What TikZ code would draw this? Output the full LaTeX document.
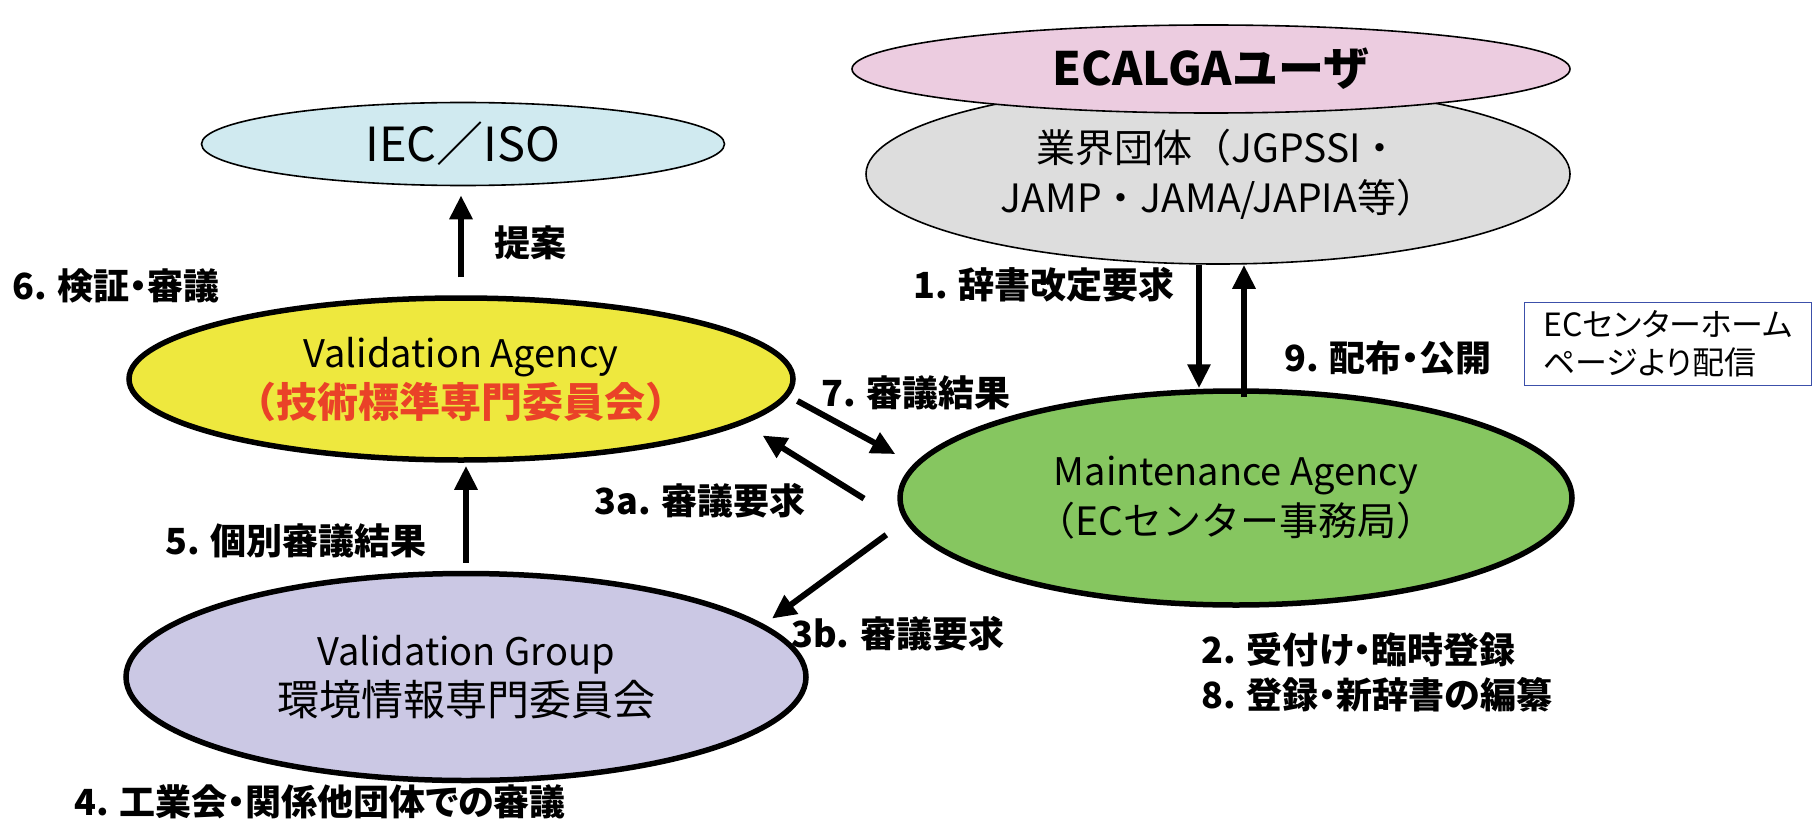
\documentclass[tikz,border=0pt]{standalone}
\usepackage{fontspec}
\setmainfont{Noto Sans CJK JP}
\newfontfamily\propfont{Noto Sans CJK JP}[RawFeature=+palt]
\usetikzlibrary{arrows.meta, shapes.geometric}

\definecolor{pinkfill}{RGB}{236,204,224}
\definecolor{grayfill}{RGB}{221,221,221}
\definecolor{bluefill}{RGB}{208,234,240}
\definecolor{yellowfill}{RGB}{238,232,62}
\definecolor{greenfill}{RGB}{134,198,96}
\definecolor{purplefill}{RGB}{203,200,228}
\definecolor{redtext}{RGB}{234,66,40}
\definecolor{boxblue}{RGB}{60,80,170}

\begin{document}
\begin{tikzpicture}[x=1pt,y=-1pt,>={Triangle[length=24pt,width=22pt]},
	oval/.style={ellipse, draw, inner sep=0pt, align=center, font=\fontsize{38}{50}\selectfont},
	thinline/.style={line width=1.6pt},
	heavy/.style={line width=5.5pt},
	lbl/.style={font=\propfont\bfseries\fontsize{36}{45}\selectfont, inner sep=0pt},
	flow/.style={->, line width=6pt}]
	\useasboundingbox (0,0) rectangle (1814,824);
	
	%ellipses
	\node[oval, thinline, fill=grayfill, minimum width=704, minimum height=180, font=\fontsize{39}{50}\selectfont] (group) at (1218,174) {業界団体（JGPSSI・\\JAMP・JAMA/JAPIA等）};
	\node[oval, thinline, fill=pinkfill, minimum width=718, minimum height=88, font=\bfseries\fontsize{46}{50}\selectfont] (user) at (1211,69) {ECALGAユーザ};
	\node[oval, thinline, fill=bluefill, minimum width=523, minimum height=83, font=\fontsize{47}{50}\selectfont] (iec) at (463,144) {IEC／ISO};
	\node[oval, heavy, fill=yellowfill, minimum width=664, minimum height=162] (va) at (461,379) {Validation Agency\\\textcolor{redtext}{\bfseries\fontsize{41}{50}\selectfont（技術標準専門委員会）}};
	\node[oval, heavy, fill=greenfill, minimum width=672, minimum height=214] (ma) at (1236,498) {Maintenance Agency\\{\fontsize{39}{50}\selectfont（ECセンター事務局）}};
	\node[oval, heavy, fill=purplefill, minimum width=680, minimum height=207] (vg) at (466,677) {Validation Group\\{\fontsize{42}{50}\selectfont 環境情報専門委員会}};
	
	%box
	\node[draw=boxblue, line width=1.2pt, minimum width=287, minimum height=83, align=left, font=\propfont\fontsize{32}{38}\selectfont] (web) at (1668,344) {ECセンターホーム\\ページより配信};
	
	%arrows
	\draw[flow, shorten <=18pt, shorten >=9pt] (va.north) -- (va.north |- iec.south);		%proposal
	\draw[flow, shorten <=8pt, shorten >=3pt] (vg.north) -- (vg.north |- va.south);		%5
	\draw[flow] ([xshift=-37pt]ma.north |- group.south) -- ([xshift=-37pt]ma.north);		%1
	\draw[flow] ([xshift=8pt,yshift=-9pt]ma.north) -- ([xshift=8pt]ma.north |- group.south);	%9
	\draw[flow, shorten <=10pt, shorten >=21pt] (va.-3.8) -- (ma.174.8);		%7
	\draw[flow, shorten <=53pt, shorten >=22pt] (ma.185.3) -- (va.-9.95);		%3a
	\draw[flow, shorten <=23pt, shorten >=10pt] (ma.184.6) -- (vg.10.2);		%3b
	
	%labels
	\node[lbl] (propose) at (530,243) {提案};
	\node[lbl] (verify) at (116,286) {6. 検証・審議};
	\node[lbl] (result5) at (296,541) {5. 個別審議結果};
	\node[lbl] (result7) at (916,393) {7. 審議結果};
	\node[lbl] (req3a) at (700,501) {3a. 審議要求};
	\node[lbl] (req3b) at (898,634) {3b. 審議要求};
	\node[lbl] (req1) at (1044,285) {1. 辞書改定要求};
	\node[lbl] (pub9) at (1388,358) {9. 配布・公開};
	\node[lbl, anchor=west, align=left] (steps) at (1201,672) {2. 受付け・臨時登録\\8. 登録・新辞書の編纂};
	\node[lbl, anchor=west] (review4) at (74,802) {4. 工業会・関係他団体での審議};
\end{tikzpicture}
\end{document}
